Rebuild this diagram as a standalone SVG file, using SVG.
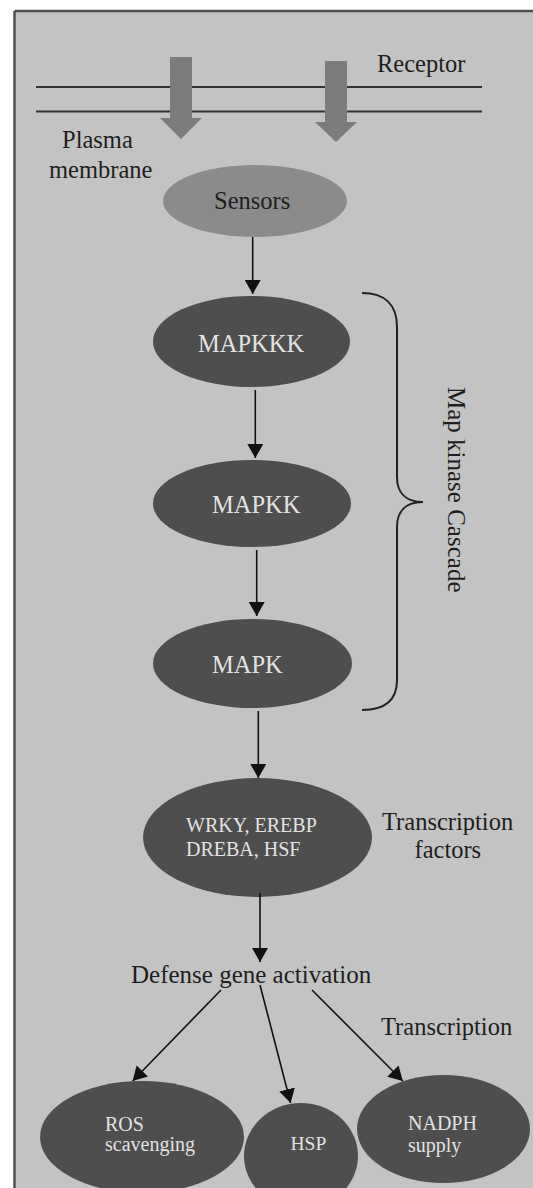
<svg xmlns="http://www.w3.org/2000/svg" width="533" height="1188" viewBox="0 0 533 1188">
<style>
  .lbl { font-family: "Liberation Serif", "Times New Roman", serif; fill: #1e1e1e; }
  .in { font-family: "Liberation Serif", "Times New Roman", serif; fill: #e2e2e2; }
  .dark { fill: #4e4e4e; }
  .conn { stroke: #111; stroke-width: 1.6; fill: none; }
  .mem { stroke: #333; stroke-width: 2; }
  .block { fill: #7c7c7c; }
  .frame { stroke: #505050; stroke-width: 2.5; }
</style>
<defs>
  <marker id="ah" viewBox="0 0 14 16" refX="14" refY="8" markerWidth="14" markerHeight="16" orient="auto" markerUnits="userSpaceOnUse">
    <path d="M0,0 L14,8 L0,16 z" fill="#111"/>
  </marker>
</defs>
<rect x="0" y="0" width="533" height="1188" fill="#ffffff"/>
<rect x="14.5" y="11" width="519" height="1177" fill="#c3c3c3"/>
<line class="frame" x1="14.5" y1="11" x2="533" y2="11"/>
<line class="frame" x1="14.5" y1="11" x2="14.5" y2="1188"/>

<g id="membrane">
  <line class="mem" x1="36" y1="87" x2="482" y2="87"/>
  <line class="mem" x1="36" y1="111.5" x2="482" y2="111.5"/>
  <text class="lbl" x="62" y="148" font-size="24.5">Plasma</text>
  <text class="lbl" x="49" y="178" font-size="24.5">membrane</text>
</g>
<g id="receptor">
  <polygon class="block" points="170,57 192,57 192,118 202,118 181,139 160,118 170,118"/>
  <polygon class="block" points="325,61 347,61 347,122 357,122 336,142 315,122 325,122"/>
  <text class="lbl" x="377" y="72" font-size="24.5">Receptor</text>
</g>

<g id="sensors">
  <ellipse cx="255" cy="201" rx="92" ry="36" fill="#8b8b8b"/>
  <text class="lbl" x="214" y="209" font-size="24.5">Sensors</text>
</g>

<g id="mapkkk">
  <ellipse class="dark" cx="251.5" cy="341.5" rx="98.5" ry="45.5"/>
  <text class="in" x="198" y="352" font-size="24.5">MAPKKK</text>
</g>
<g id="mapkk">
  <ellipse class="dark" cx="252" cy="503.5" rx="99" ry="43.5"/>
  <text class="in" x="212" y="513" font-size="24.5">MAPKK</text>
</g>
<g id="mapk">
  <ellipse class="dark" cx="252.5" cy="663.5" rx="99.5" ry="44.5"/>
  <text class="in" x="212" y="673" font-size="24.5">MAPK</text>
</g>

<g id="cascade">
  <path d="M362,293 C385,293 397,305 397,327 L397,477 C397,492 405,502 423,502 C405,502 397,512 397,527 L397,680 C397,700 385,710 362,710" fill="none" stroke="#222" stroke-width="2"/>
  <text class="lbl" font-size="25" transform="translate(448,387) rotate(90)">Map kinase Cascade</text>
</g>

<g id="tf">
  <ellipse class="dark" cx="257.5" cy="837.5" rx="114.5" ry="59.5"/>
  <text class="in" x="186" y="832" font-size="20">WRKY, EREBP</text>
  <text class="in" x="186" y="856" font-size="20">DREBA, HSF</text>
  <text class="lbl" x="382" y="830" font-size="24.5">Transcription</text>
  <text class="lbl" x="414.5" y="858" font-size="24.5">factors</text>
</g>

<g id="defense">
  <text class="lbl" x="131" y="983" font-size="25">Defense gene activation</text>
</g>
<g id="transcription">
  <text class="lbl" x="381" y="1035" font-size="24.5">Transcription</text>
</g>

<g id="ros">
  <ellipse class="dark" cx="142" cy="1137" rx="102" ry="56"/>
  <text class="in" x="105" y="1131" font-size="20">ROS</text>
  <text class="in" x="105" y="1151" font-size="20">scavenging</text>
</g>
<g id="hsp">
  <ellipse class="dark" cx="301" cy="1156" rx="57" ry="53"/>
  <text class="in" x="290.5" y="1150" font-size="19.5">HSP</text>
</g>
<g id="nadph">
  <ellipse class="dark" cx="443.5" cy="1129" rx="86.5" ry="54"/>
  <text class="in" x="408" y="1130" font-size="20">NADPH</text>
  <text class="in" x="408" y="1152" font-size="20">supply</text>
</g>

<g id="connectors">
  <line class="conn" x1="252.7" y1="237" x2="252.7" y2="294" marker-end="url(#ah)"/>
  <line class="conn" x1="255.3" y1="390" x2="255.3" y2="458" marker-end="url(#ah)"/>
  <line class="conn" x1="256.7" y1="550" x2="256.7" y2="616" marker-end="url(#ah)"/>
  <line class="conn" x1="258.3" y1="711" x2="258.3" y2="778" marker-end="url(#ah)"/>
  <line class="conn" x1="260" y1="893" x2="260" y2="962" marker-end="url(#ah)"/>
  <line class="conn" x1="221" y1="990" x2="132.6" y2="1081" marker-end="url(#ah)"/>
  <line class="conn" x1="260" y1="985" x2="290.6" y2="1103" marker-end="url(#ah)"/>
  <line class="conn" x1="312" y1="990" x2="402.8" y2="1081" marker-end="url(#ah)"/>
</g>
</svg>
